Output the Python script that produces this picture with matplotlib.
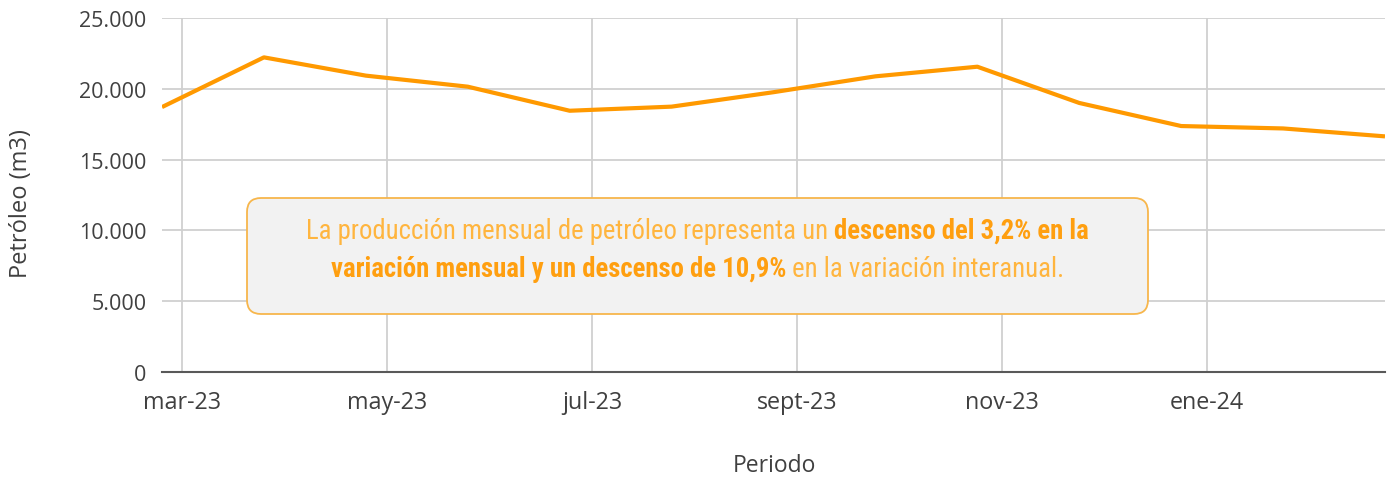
import numpy as np
import matplotlib
matplotlib.use("Agg")
import matplotlib.pyplot as plt
from matplotlib import font_manager
from matplotlib.patches import FancyBboxPatch
from matplotlib.transforms import IdentityTransform

# ---------------- data ----------------
months = ["mar-23", "abr-23", "may-23", "jun-23", "jul-23", "ago-23", "sept-23",
          "oct-23", "nov-23", "dic-23", "ene-24", "feb-24", "mar-24"]
petroleo = [18710, 22220, 20930, 20150, 18450, 18740, 19760,
            20880, 21560, 19000, 17370, 17200, 16640]
tick_labels = ["mar-23", "may-23", "jul-23", "sept-23", "nov-23", "ene-24"]
y_ticks = [0, 5000, 10000, 15000, 20000, 25000]

note_line1 = [("La producción mensual de petróleo representa un ", "normal"),
              ("descenso del 3,2% en la", "bold")]
note_line2 = [("variación mensual y un descenso de 10,9%", "bold"),
              (" en la variación interanual.", "normal")]

# ---------------- fonts ----------------
def pick_font(cands):
    for c in cands:
        try:
            font_manager.findfont(font_manager.FontProperties(family=c), fallback_to_default=False)
            return c
        except Exception:
            pass
    return "DejaVu Sans"

axis_font = pick_font(["Open Sans", "Lato", "DejaVu Sans"])
note_font = pick_font(["Roboto Condensed", "Liberation Sans Narrow", "Roboto", "DejaVu Sans"])

plt.rcParams["font.family"] = [axis_font, "DejaVu Sans"]

W, H, DPI = 1393, 481, 100
fig = plt.figure(figsize=(W / DPI, H / DPI), dpi=DPI)
ax = fig.add_axes([162 / W, 1 - 373 / H, (1385 - 162) / W, (373 - 19) / H])

x = np.arange(len(months))
ax.plot(x, petroleo, color="#FF9900", lw=3.0, solid_capstyle="butt", zorder=3)

ax.set_xlim(0, len(months) - 1)
ax.set_ylim(0, 25000)

tick_pos = 0.2 + 2.01 * np.arange(len(tick_labels))
ax.set_xticks(tick_pos)
ax.set_xticklabels(tick_labels)
ax.set_yticks(y_ticks)
ax.set_yticklabels([f"{v:,}".replace(",", ".") for v in y_ticks])

ax.grid(True, color="#d0d0d0", lw=1.3, zorder=0)
ax.set_axisbelow(True)
for s in ["left", "right", "top"]:
    ax.spines[s].set_visible(False)
ax.spines["bottom"].set_color("#595959")
ax.spines["bottom"].set_linewidth(1.5)
ax.spines["bottom"].set_zorder(2)

ax.tick_params(axis="both", length=0, labelcolor="#404040")
ax.tick_params(axis="x", pad=13, labelsize=16.8)
ax.tick_params(axis="y", pad=11, labelsize=15.5)

ax.set_ylabel("Petróleo (m3)", fontsize=17, color="#404040")
ax.yaxis.set_label_coords((33 - 162) / (1385 - 162), (373 - 204) / (373 - 19))
ax.set_xlabel("Periodo", fontsize=16.5, color="#404040")
ax.xaxis.set_label_coords((774 - 162) / (1385 - 162), (373 - 454) / (373 - 19))

# ---------------- note box (pixel coordinates) ----------------
box = FancyBboxPatch((247, H - 315), 1148 - 247, 315 - 199,
                     boxstyle="round,pad=0,rounding_size=14",
                     transform=IdentityTransform(), facecolor="#f2f2f2",
                     edgecolor="#f7b64c", lw=1.3, zorder=5)
fig.patches.append(box)

renderer = fig.canvas.get_renderer()
cx = (247 + 1148) / 2
note_size = 19.3
colors = {"normal": "#FFB53F", "bold": "#FF9F10"}

def draw_line(parts, baseline_from_top):
    texts = []
    widths = []
    for s, w in parts:
        t = fig.text(0, 0, s, transform=IdentityTransform(), fontsize=note_size,
                     family=[note_font, "DejaVu Sans"], weight=w, color=colors[w],
                     va="baseline", ha="left", zorder=6)
        bb = t.get_window_extent(renderer)
        texts.append(t)
        widths.append(bb.width)
    total = sum(widths)
    xx = cx - total / 2
    for t, wd in zip(texts, widths):
        t.set_position((xx, H - baseline_from_top))
        xx += wd

draw_line(note_line1, 239)
draw_line(note_line2, 277)

fig.savefig("out.png", dpi=DPI, facecolor="white")
